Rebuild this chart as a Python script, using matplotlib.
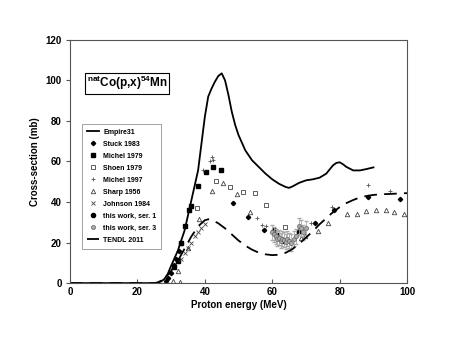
import matplotlib
matplotlib.use("Agg")
import matplotlib.pyplot as plt
import numpy as np

plt.rcParams['font.family'] = ['Liberation Sans', 'DejaVu Sans']
plt.rcParams['font.weight'] = 'bold'
plt.rcParams['mathtext.fontset'] = 'custom'
plt.rcParams['mathtext.rm'] = 'Liberation Sans:bold'
plt.rcParams['mathtext.bf'] = 'Liberation Sans:bold'

# Empire31 model curve
empire_x = [0, 10, 20, 25, 26, 27, 28, 29, 30, 32, 34, 36, 38, 39, 40, 41, 42, 43, 44, 45, 46,
            47, 48, 49, 50, 52, 54, 56, 58, 60, 62, 64, 65, 66, 68, 70, 72, 74, 76, 78, 79,
            80, 81, 82, 84, 86, 88, 90]
empire_y = [0, 0, 0, 0, 0.2, 0.8, 2.0, 4.5, 8.5, 16, 26, 40.8, 55.6, 68.8, 82, 92, 96, 99.4,
            102.2, 103.5, 100, 92.8, 84.5, 78, 73, 65.5, 60.6, 57.3, 54, 51.2, 49, 47.4, 47,
            47.7, 49.5, 50.7, 51.2, 52, 54, 58.1, 59.3, 59.6, 58.6, 57.3, 55.6, 55.6, 56.3, 57.1]

# TENDL 2011 curve
tendl_x = [0, 10, 20, 25, 26, 28, 30, 32, 34, 36, 38, 40, 41, 42, 44, 46, 48, 50, 52, 54, 56,
           58, 60, 62, 64, 66, 68, 70, 72, 74, 76, 78, 80, 82, 84, 86, 88, 90, 92, 95, 100]
tendl_y = [0, 0, 0, 0, 0.3, 2, 6, 11, 17, 23, 28, 31, 31.5, 31.3, 29.5, 27, 24, 21, 18.5,
           16.5, 15, 14.2, 13.8, 14, 15, 16.8, 19.5, 22.5, 25.5, 29, 32, 35, 37.5, 39.5, 41,
           42.3, 43, 43.5, 43.8, 44, 44.4]

stuck_x = [28.5, 29.2, 30.0, 30.8, 31.5, 32.2, 33.0, 48.5, 52.7, 57.6, 67.8, 72.8, 78.2, 88.3, 98.0]
stuck_y = [1.0, 2.5, 5.0, 9.0, 12.0, 16.0, 20.0, 39.6, 32.8, 26.4, 25.9, 29.9, 36.3, 42.4, 41.6]

michel79_x = [31.0, 32.0, 33.0, 34.0, 35.2, 35.8, 37.9, 40.2, 42.4, 44.7]
michel79_y = [8.0, 11.0, 20.0, 28.0, 36.0, 38.0, 47.7, 54.8, 57.3, 55.6]

shoen_x = [37.8, 43.3, 47.5, 51.3, 54.9, 58.2, 63.9]
shoen_y = [37.0, 50.3, 47.4, 44.9, 44.4, 38.6, 27.6]

michel97_x = [39.6, 41.5, 42.0, 42.5, 55.6, 56.9, 58.0, 71.5, 77.7, 88.3, 94.9]
michel97_y = [55.6, 60.0, 62.0, 60.5, 32.0, 28.7, 28.0, 29.6, 37.5, 48.2, 45.4]

sharp_x = [30.7, 32.0, 32.7, 35.1, 38.4, 42.1, 45.5, 49.5, 53.5, 68.5, 69.8, 73.5, 76.5,
           82.2, 85.1, 87.9, 90.7, 93.6, 96.0, 99.0]
sharp_y = [1.2, 5.8, 0.5, 17.2, 31.5, 45.2, 49.4, 44.0, 35.3, 22.5, 23.4, 25.9, 29.5,
           34.2, 34.2, 35.5, 36.2, 36.2, 35.3, 34.2]

johnson_x = [33.0, 34.0, 35.0, 36.0, 37.0, 38.0, 39.0, 40.0]
johnson_y = [12.0, 15.0, 17.5, 20.0, 23.0, 25.0, 27.0, 29.0]

ser1_x = [60.5, 61.5, 62.5, 63.5, 64.5, 68.0]
ser1_y = [26.0, 23.5, 22.0, 21.0, 21.5, 25.0]

ser3_x = [60.0, 60.5, 61.0, 61.5, 62.0, 62.5, 63.0, 63.5, 64.0, 64.5, 65.0, 65.5,
          66.5, 67.0, 68.0, 68.5, 69.0, 70.0]
ser3_y = [25.0, 24.0, 23.0, 22.0, 22.5, 21.0, 22.0, 21.5, 20.5, 22.0, 21.0, 20.0,
          22.0, 23.0, 28.0, 27.0, 25.0, 27.0]
ser3_err = [3.5, 3.5, 3.5, 3.5, 3.5, 3.5, 3.5, 3.5, 3.5, 3.5, 3.5, 4.0,
            3.5, 3.5, 4.0, 4.0, 3.5, 3.5]

fig = plt.figure(figsize=(4.57, 3.53), dpi=100)
ax = fig.add_axes([0.153, 0.198, 0.738, 0.689])

h = []
h.append(ax.plot(empire_x, empire_y, color='black', lw=1.3, label='Empire31')[0])
h.append(ax.plot(stuck_x, stuck_y, linestyle='none', marker='D', ms=2.2, color='black',
                 label='Stuck 1983')[0])
h.append(ax.plot(michel79_x, michel79_y, linestyle='none', marker='s', ms=3.2, color='black',
                 label='Michel 1979')[0])
h.append(ax.plot(shoen_x, shoen_y, linestyle='none', marker='s', ms=3.5, mfc='white',
                 mec='#444444', mew=0.6, label='Shoen 1979')[0])
h.append(ax.plot(michel97_x, michel97_y, linestyle='none', marker='+', ms=3.5, color='#555555',
                 mew=0.6, label='Michel 1997')[0])
h.append(ax.plot(sharp_x, sharp_y, linestyle='none', marker='^', ms=3.2, mfc='white',
                 mec='#444444', mew=0.6, label='Sharp 1956')[0])
h.append(ax.plot(johnson_x, johnson_y, linestyle='none', marker='x', ms=3.0, color='#444444',
                 mew=0.6, label='Johnson 1984')[0])
h.append(ax.plot(ser1_x, ser1_y, linestyle='none', marker='o', ms=3.0, color='black',
                 label='this work, ser. 1')[0])
ax.errorbar(ser3_x, ser3_y, yerr=ser3_err, linestyle='none', marker='none',
            ecolor='#aaaaaa', elinewidth=0.6, capsize=1.2)
h.append(ax.plot(ser3_x, ser3_y, linestyle='none', marker='o', ms=3.0, mfc='#aaaaaa',
                 mec='#666666', mew=0.5, label='this work, ser. 3')[0])
h.append(ax.plot(tendl_x, tendl_y, color='black', lw=1.3, dashes=(7, 4),
                 label='TENDL 2011')[0])

ax.set_xlim(0, 100)
ax.set_ylim(0, 120)
ax.set_xticks(range(0, 101, 20))
ax.set_yticks(range(0, 121, 20))
ax.tick_params(axis='x', direction='in', length=3, labelsize=7, pad=3, color='#555555')
ax.tick_params(axis='y', direction='out', length=3, labelsize=7, pad=3, color='#555555')
for lbl in ax.get_xticklabels() + ax.get_yticklabels():
    lbl.set_fontweight('bold')
for s in ax.spines.values():
    s.set_color('#555555')
    s.set_linewidth(0.8)

ax.set_xlabel('Proton energy (MeV)', fontsize=7, fontweight='bold', labelpad=2)
ax.set_ylabel('Cross-section (mb)', fontsize=7, fontweight='bold', labelpad=4)

ax.text(0.05, 0.822, r'$^{\mathbf{nat}}$Co(p,x)$^{\mathbf{54}}$Mn', transform=ax.transAxes,
        fontsize=8.5, fontweight='bold', va='center', ha='left',
        bbox=dict(boxstyle='square,pad=0.12', fc='white', ec='black', lw=0.8))

leg = ax.legend(handles=h, loc='upper left', bbox_to_anchor=(0.035, 0.655), fontsize=5.0,
                frameon=True, fancybox=False, edgecolor='#777777', handlelength=1.8,
                labelspacing=0.72, borderpad=0.7, handletextpad=0.6, borderaxespad=0.0)
leg.get_frame().set_linewidth(0.6)
for t in leg.get_texts():
    t.set_fontweight('bold')

fig.savefig('out.png', dpi=100)
